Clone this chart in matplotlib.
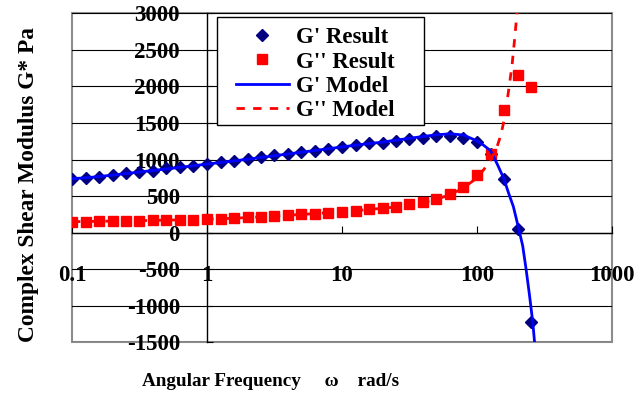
"""Complex shear modulus vs angular frequency: measured G', G'' and model fit."""

import matplotlib
matplotlib.use("Agg")
import matplotlib.pyplot as plt
from matplotlib.patches import Rectangle
from matplotlib.ticker import FixedLocator, FixedFormatter, NullLocator

# Measured points (rad/s, Pa)
freq = [0.1, 0.126, 0.158, 0.2, 0.251, 0.316, 0.398, 0.501, 0.631, 0.794,
        1.0, 1.26, 1.58, 2.0, 2.51, 3.16, 3.98, 5.01, 6.31, 7.94,
        10.0, 12.6, 15.8, 20.0, 25.1, 31.6, 39.8, 50.1, 63.1, 79.4,
        100.0, 126.0, 158.0, 200.0, 251.0]
g1_result = [733, 743, 765, 788, 811, 833, 847, 880, 893, 915,
             934, 960, 980, 1003, 1030, 1061, 1075, 1107, 1120, 1143,
             1175, 1198, 1221, 1225, 1257, 1280, 1298, 1322, 1328, 1297,
             1243, 1075, 731, 46, -1226]
g2_result = [150, 152, 155, 158, 161, 164, 167, 171, 174, 178,
             183, 192, 198, 208, 218, 228, 240, 249, 257, 272,
             287, 300, 318, 333, 350, 385, 424, 460, 533, 630,
             790, 1071, 1676, 2154, 1988]

# Model curves
g1_model_freq = freq[:31] + [112, 126, 141, 158, 170, 186, 202, 218, 231, 245, 259, 270]
g1_model = [738, 750, 767, 787, 808, 829, 850, 871, 893, 915,
            937, 959, 981, 1004, 1028, 1052, 1076, 1100, 1124, 1148,
            1172, 1196, 1218, 1238, 1265, 1290, 1315, 1338, 1352, 1335,
            1255, 1195, 1120, 940, 740, 560, 355, 82, -180, -500, -860, -1230, -1600]
g2_model_freq = freq[:31] + [112, 126, 141, 150, 158, 166, 174, 182, 190, 200]
g2_model = [150, 152, 155, 158, 161, 164, 167, 171, 174, 178,
            183, 190, 197, 206, 216, 227, 238, 249, 260, 273,
            287, 301, 317, 333, 352, 378, 412, 455, 520, 610,
            750, 860, 990, 1180, 1330, 1520, 1760, 2030, 2300, 2650, 3100]

x_ticks = [0.1, 1, 10, 100, 1000]
x_tick_labels = ["0.1", "1", "10", "100", "1000"]
y_ticks = [-1500, -1000, -500, 0, 500, 1000, 1500, 2000, 2500, 3000]

COLOR_G1_POINT = "#000080"
COLOR_G1_LINE = "#0000ff"
COLOR_G2 = "#ff0000"
TICK_SIZE = 16.5
LEGEND_SIZE = 16.5
XLABEL_SIZE = 13.8
YLABEL_SIZE = 16.8
W, H = 644, 395

plt.rcParams["font.family"] = ["Liberation Serif", "DejaVu Serif"]
plt.rcParams["font.weight"] = "bold"
plt.rcParams["axes.unicode_minus"] = False

fig = plt.figure(figsize=(W / 100, H / 100), dpi=100)
ax = fig.add_axes([72 / W, 1 - 342.3 / H, 540 / W, 329 / H])

ax.plot(freq, g1_result, linestyle="none", marker="D", markersize=5.8,
        color=COLOR_G1_POINT, label="G' Result", zorder=3)
ax.plot(freq, g2_result, linestyle="none", marker="s", markersize=7.8,
        color=COLOR_G2, label="G'' Result", zorder=4)
ax.plot(g1_model_freq, g1_model, color=COLOR_G1_LINE, linewidth=2.0,
        label="G' Model", zorder=5)
ax.plot(g2_model_freq, g2_model, color=COLOR_G2, linewidth=2.0,
        linestyle=(0, (3.0, 3.0)), label="G'' Model", zorder=5)

ax.set_xscale("log")
ax.set_xlim(0.1, 1000)
ax.set_ylim(-1500, 3000)

# Axes cross at y=0 and x=1, like the spreadsheet original
for side in ("top", "right"):
    ax.spines[side].set_visible(False)
ax.spines["bottom"].set_position(("data", 0))
ax.spines["left"].set_position(("data", 1))
ax.spines["bottom"].set_linewidth(1.0)
ax.spines["left"].set_linewidth(1.0)
ax.patch.set_edgecolor("#8c8c8c")
ax.patch.set_linewidth(1.5)

ax.xaxis.set_major_locator(FixedLocator(x_ticks))
ax.xaxis.set_major_formatter(FixedFormatter(x_tick_labels))
ax.xaxis.set_minor_locator(NullLocator())
ax.yaxis.set_major_locator(FixedLocator(y_ticks))
ax.tick_params(axis="x", direction="in", length=5, width=0.8, pad=23.5, labelsize=TICK_SIZE)
ax.tick_params(axis="y", direction="in", length=4.5, width=0.8, pad=19.5, labelsize=TICK_SIZE)
ax.yaxis.grid(True, color="black", linewidth=0.8)
ax.set_axisbelow(True)

ax.set_xlabel("Angular Frequency     \u03c9    rad/s", fontsize=XLABEL_SIZE,
              fontweight="bold", va="center")
ax.xaxis.set_label_coords(0.367, -0.12)
ax.set_ylabel("Complex Shear Modulus G* Pa", fontsize=YLABEL_SIZE,
              fontweight="bold", va="center")
ax.yaxis.set_label_coords(-0.081, 0.48)

# Legend box drawn separately so the inner padding can match the original
ax.add_patch(Rectangle((217 / W, 1 - 125 / H), 207 / W, 108 / H,
                       transform=fig.transFigure, facecolor="white",
                       edgecolor="black", linewidth=1.0, clip_on=False, zorder=6))
leg = ax.legend(loc="upper left", bbox_to_anchor=(236 / W, 1 - 27 / H),
                bbox_transform=fig.transFigure, borderaxespad=0, borderpad=0,
                fontsize=LEGEND_SIZE, handlelength=2.3, handletextpad=0.3,
                labelspacing=0.15, frameon=False, numpoints=1)
leg.set_zorder(7)

fig.savefig("out.png", dpi=100)
